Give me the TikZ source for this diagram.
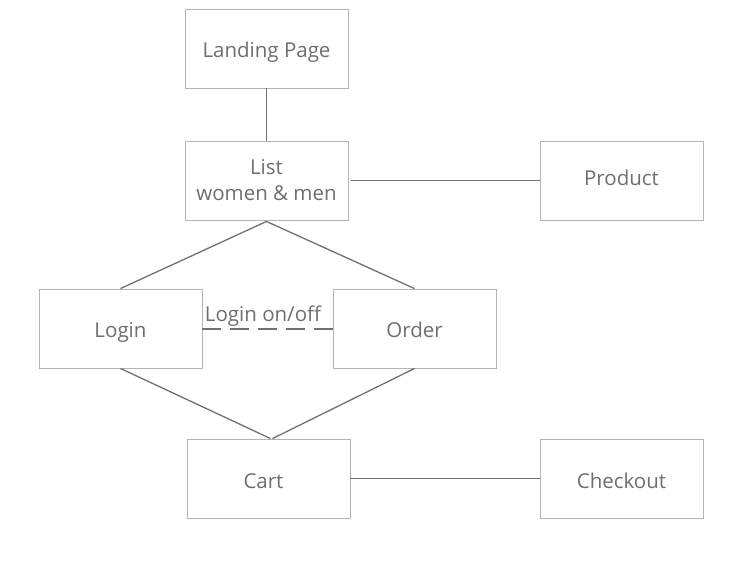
\documentclass[tikz,border=0pt]{standalone}
\usepackage{fontspec}
\setmainfont{Open Sans}
\definecolor{boxgray}{HTML}{B4B4B4}
\definecolor{linegray}{HTML}{707070}
\definecolor{textgray}{HTML}{6E6E6E}
\tikzset{
  page/.style={draw=boxgray, line width=0.9pt, minimum width=163pt, minimum height=79pt,
    text=textgray, font=\fontsize{20.5}{26}\selectfont, align=center, inner sep=0pt},
  pageone/.style={page, text height=20pt, text depth=2.4pt},
  link/.style={draw=linegray, line width=1.3pt},
  toggle/.style={draw=linegray, line width=2pt, dash pattern=on 19pt off 9pt}
}
\begin{document}
\begin{tikzpicture}[x=1pt,y=-1pt]
\useasboundingbox (0,0) rectangle (744,579);

%pages
\node[pageone] (landing) at (266.5,48.5) {Landing Page};
\node[page] (list) at (266.5,180.5) {List\\ women \& men};
\node[pageone, text depth=10.4pt] (product) at (621.5,180.5) {Product};
\node[pageone] (login) at (120.5,328.5) {Login};
\node[pageone] (order) at (414.5,328.5) {Order};
\node[pageone, text depth=0.4pt] (cart) at (268.5,478.5) {Cart\hspace{10pt}};
\node[pageone, text depth=0.4pt] (checkout) at (621.5,478.5) {Checkout};

%links
\draw[link] (landing.south) -- (list.north);
\draw[link] ([xshift=3pt]list.east) -- (product.west);
\draw[link] ([yshift=-1pt]list.south) -- (login.north);
\draw[link] ([yshift=-1pt]list.south) -- (order.north);
\draw[link] (login.south) -- ([xshift=2pt]cart.north);
\draw[link] (order.south) -- ([xshift=4pt]cart.north);
\draw[link] (cart.east) -- (checkout.west);

%login toggle
\draw[toggle] (login.east) -- (order.west);
\node[text=textgray, font=\fontsize{20.5}{26}\selectfont, inner sep=0pt] (toggletext) at (263,316.5) {Login on/off};
\end{tikzpicture}
\end{document}
